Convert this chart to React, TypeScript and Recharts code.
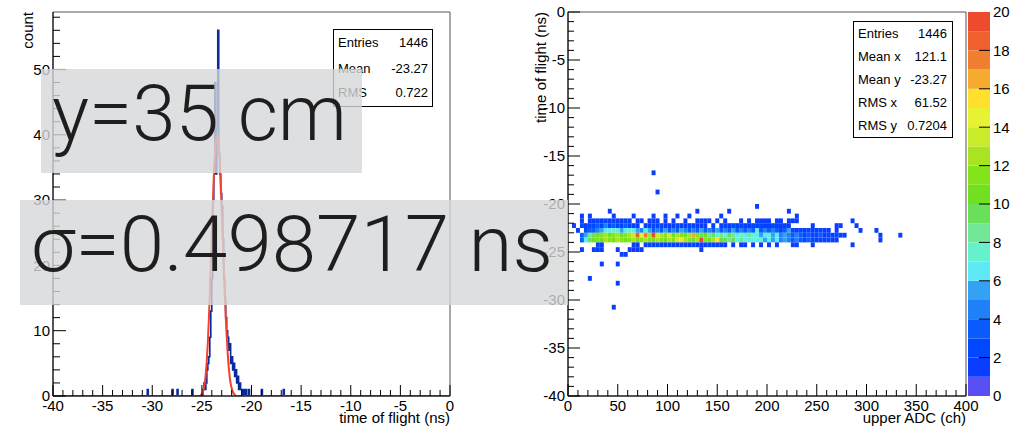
import React from 'react';
import { ComposedChart, Line, XAxis, YAxis, ReferenceArea, Scatter } from 'recharts';

const FONT = '"Liberation Sans", Arial, Helvetica, sans-serif';
const BIG_FONT = 'Roboto, "Liberation Sans", sans-serif';

// ---------- left panel: time of flight histogram ----------
const tofMajorTicks = [-40, -35, -30, -25, -20, -15, -10, -5, 0];
const countMajorTicks = [0, 10, 20, 30, 40, 50];
const countMax = 58.8;
const tofBinWidth = 0.1;
const tofBinLow = [
  -30.5, -28.0, -27.5, -26.0, -24.9, -24.8, -24.7, -24.6, -24.5, -24.4, -24.3, -24.2, -24.1, -24.0,
  -23.9, -23.8, -23.7, -23.6, -23.5, -23.4, -23.3, -23.2, -23.1, -23.0, -22.9, -22.8, -22.7, -22.6,
  -22.5, -22.4, -22.3, -22.2, -22.1, -22.0, -21.9, -21.8, -21.7, -21.6, -21.5, -21.4, -21.3, -21.2,
  -21.1, -21.0, -20.8, -20.6, -20.3, -19.0, -16.8,
];
const tofBinCount = [
  1, 1, 1, 1, 1, 2, 1, 2, 4, 5, 6, 9, 13, 18,
  30, 35, 48, 34, 41, 56, 37, 34, 31, 29, 24, 18, 15, 12,
  10, 9, 7, 8, 5, 6, 4, 5, 3, 4, 2, 3, 1, 2,
  1, 1, 1, 1, 1, 1, 1,
];
const fitTof = [
  -40, -25.2, -25.1, -25.0, -24.9, -24.8, -24.7, -24.6, -24.5, -24.4, -24.3, -24.2, -24.1, -24.0,
  -23.9, -23.8, -23.7, -23.6, -23.5, -23.4, -23.3, -23.2, -23.1, -23.0, -22.9, -22.8, -22.7, -22.6,
  -22.5, -22.4, -22.3, -22.2, -22.1, -22.0, -21.9, -21.8, -21.7, -21.5, 0,
];
const fitCount = [
  0, 0, 0.15, 0.3, 0.6, 1.2, 2.1, 3.5, 5.5, 8.2, 11.6, 15.6, 20.1, 24.8,
  29.4, 33.5, 36.7, 38.8, 39.8, 39.6, 38.2, 35.7, 32.3, 28.4, 24.2, 20.0, 16.0, 12.3,
  9.2, 6.6, 4.5, 3.0, 1.9, 1.2, 0.7, 0.4, 0.2, 0, 0,
];

// ---------- right panel: 2D histogram tof vs ADC ----------
const adcMajorTicks = [0, 50, 100, 150, 200, 250, 300, 350, 400];
const tof2MajorTicks = [0, -5, -10, -15, -20, -25, -30, -35, -40];
const zMajorTicks = [0, 2, 4, 6, 8, 10, 12, 14, 16, 18, 20];
const adcBinWidth = 4;
const tofRowHeight = 0.5;

// dense rows: lower edge of tof row, first ADC bin index, counts
const row_m22_0 = [1,0,1,1,2,1,2,1,2,1,1,2,1,0,1,1,0,1,1,1,0,1,0,1,0,0,1,0,0,1,1,1,1,0,1,0,1,0,0,0,1,0,1,0,1,1,1,1,0,1,1,0,1,1,1,0,0,0,0,0,0,0,0,0,0,0,0,0,1];
const row_m22_5 = [1,0,2,1,2,2,3,2,4,2,3,2,2,3,2,1,1,0,1,1,2,1,2,1,1,1,2,1,1,2,1,1,1,1,0,1,0,1,2,1,2,1,2,1,1,2,1,2,1,1,2,1,1,1,1,0,0,0,0,0,1,0,0,0,0,0,1,1,0,0,0,1];
const row_m23_0 = [1,0,2,3,3,4,5,6,6,7,6,5,6,7,6,5,4,6,5,3,4,3,5,3,4,3,5,4,3,4,3,5,3,4,3,5,3,4,3,5,3,4,3,4,3,6,3,4,3,4,3,2,3,5,2,1,2,1,2,1,1,2,1,1,0,1,0,0,0,0,0,1,0,0,0,1];
const row_m23_5 = [3,5,8,9,10,11,12,10,11,12,10,11,12,13,18,14,17,12,19,13,12,11,13,10,12,11,10,12,16,11,9,10,8,9,7,8,7,9,8,6,7,6,8,7,6,5,6,7,5,6,4,5,4,3,4,3,2,3,2,2,3,1,2,1,2,1,1,0,0,0,0,0,0,0,0,1,0,0,0,0,1];
const row_m24_0 = [3,6,9,10,11,10,12,11,10,12,11,10,11,12,10,11,12,11,10,12,11,10,12,11,13,15,12,11,10,12,19,11,10,12,15,10,9,8,9,7,8,7,6,7,6,7,5,6,5,6,4,5,4,3,4,3,2,3,2,1,2,1,2,1,1,0,0,0,0,0,0,0,0,0,0,1];
const row_m24_5 = [2,1,0,0,0,0,0,0,0,1,1,0,1,2,1,2,1,1,2,1,1,2,1,1,2,1,1,1,2,1,1,1,1,0,1,0,1,1,0,1,0,1,0,1,0,1,0,0,0,1,1,0,0,0,1,0,0,0,0,0,0,0,0,0,1];
const bandRowLow = [-22, -22.5, -23, -23.5, -24, -24.5];
const bandRowStart = [3, 1, 2, 3, 3, 7];
const bandRowCounts = [row_m22_0, row_m22_5, row_m23_0, row_m23_5, row_m24_0, row_m24_5];

// isolated cells: ADC bin index, tof row lower edge, count
const looseAdcBin = [21, 22, 47, 10, 32, 40, 55, 3, 5, 11, 16, 21, 24, 27, 30, 38, 57, 3, 6, 7, 8, 12, 15, 16, 17, 18, 33, 13, 14, 8, 12, 5, 12, 11];
const looseTofRow = [-17, -19, -20.5, -21, -21, -21, -21, -21.5, -21.5, -21.5, -21.5, -21.5, -21.5, -21.5, -21.5, -21.5, -21.5, -25, -25, -25, -25, -25, -25, -25, -25, -25, -25, -25.5, -25.5, -26.5, -26.5, -28, -28.5, -31];
const looseCount = [1, 1, 1, 1, 1, 1, 1, 1, 1, 1, 1, 1, 1, 1, 1, 1, 1, 1, 1, 1, 1, 1, 1, 1, 1, 1, 1, 1, 1, 1, 1, 1, 1, 1];

const paletteColors = [
  '#5a4ff2', '#0a3dff', '#0048ff', '#0a5cff', '#1f80f8', '#33a2f4', '#5fe9f5', '#66f0cc', '#72e896', '#6ae05a',
  '#70e020', '#84e41c', '#a8e422', '#c8ec2a', '#e6f232', '#ffe02c', '#f6aa30', '#f08030', '#f0602e', '#ee4a2e',
];

// ---------- tables built from the arrays ----------
const histTable = Array.from({ length: 401 }, (_, i) => {
  const x = Math.round((-40 + i * tofBinWidth) * 10) / 10;
  const j = tofBinLow.findIndex((b) => Math.abs(b - x) < 1e-6);
  return { x, c: j >= 0 ? tofBinCount[j] : 0 };
});
const fitTable = fitTof.map((x, i) => ({ x, f: fitCount[i] }));

type Cell = { x: number; y: number; x1: number; x2: number; y1: number; y2: number; n: number };
const cells: Cell[] = [];
bandRowCounts.forEach((row, r) => {
  row.forEach((n, j) => {
    if (n > 0) {
      const k = bandRowStart[r] + j;
      const t = bandRowLow[r];
      cells.push({ x: k * adcBinWidth + 2, y: t + 0.25, x1: k * adcBinWidth, x2: (k + 1) * adcBinWidth, y1: t, y2: t + tofRowHeight, n });
    }
  });
});
looseAdcBin.forEach((k, i) => {
  const t = looseTofRow[i];
  cells.push({ x: k * adcBinWidth + 2, y: t + 0.25, x1: k * adcBinWidth, x2: (k + 1) * adcBinWidth, y1: t, y2: t + tofRowHeight, n: looseCount[i] });
});
const colorFor = (n: number) => paletteColors[Math.min(19, Math.floor(n))];
const paletteTable = paletteColors.map((c, i) => ({ x: 0.5, lo: i, hi: i + 1, c }));

const range = (a: number, b: number, step: number) => {
  const out: number[] = [];
  for (let v = a; v <= b + 1e-9; v += step) out.push(Math.round(v * 1000) / 1000);
  return out;
};

// ---------- tick renderers ----------
const bottomTick = (majors: number[], majorLen: number, minorLen: number) => (props: any) => {
  const { x, y, payload } = props;
  const v = payload.value;
  const isMajor = majors.includes(v);
  return (
    <g>
      <line x1={x} x2={x} y1={y} y2={y - (isMajor ? majorLen : minorLen)} stroke="#000" strokeWidth={1} />
      {isMajor && (
        <text x={x} y={y + 15} textAnchor="middle" fontSize={15} fontFamily={FONT} fill="#000">
          {v}
        </text>
      )}
    </g>
  );
};
const leftTick = (majors: number[], majorLen: number, minorLen: number) => (props: any) => {
  const { x, y, payload } = props;
  const v = payload.value;
  const isMajor = majors.includes(v);
  return (
    <g>
      <line x1={x} x2={x + (isMajor ? majorLen : minorLen)} y1={y} y2={y} stroke="#000" strokeWidth={1} />
      {isMajor && (
        <text x={x - 3} y={y} dy="0.36em" textAnchor="end" fontSize={15} fontFamily={FONT} fill="#000">
          {v}
        </text>
      )}
    </g>
  );
};
const paletteTick = (props: any) => {
  const { x, y, payload } = props;
  const v = payload.value;
  return (
    <g>
      {v > 0 && v < 20 && <line x1={x} x2={x - 11} y1={y} y2={y} stroke="#000" strokeWidth={1} />}
      <text x={x + 3} y={y} dy="0.36em" textAnchor="start" fontSize={15} fontFamily={FONT} fill="#000">
        {v}
      </text>
    </g>
  );
};

const Nothing = () => <g />;

export default function App() {
  return (
    <div style={{ position: 'fixed', left: 0, top: 0, width: 1024, height: 431, background: '#fff', overflow: 'hidden' }}>
      {/* left histogram */}
      <div style={{ position: 'absolute', left: 0, top: 0 }}>
        <ComposedChart width={460} height={431} margin={{ top: 12, right: 10, bottom: 0, left: 0 }}>
          <XAxis
            type="number"
            dataKey="x"
            domain={[-40, 0]}
            ticks={range(-40, 0, 1)}
            interval={0}
            height={35}
            tickSize={0}
            tickMargin={0}
            tickLine={false}
            axisLine={{ stroke: '#000' }}
            tick={bottomTick(tofMajorTicks, 11, 6)}
            allowDataOverflow
          />
          <YAxis
            type="number"
            domain={[0, countMax]}
            ticks={range(0, 58, 2)}
            interval={0}
            width={53}
            tickSize={0}
            tickMargin={0}
            tickLine={false}
            axisLine={{ stroke: '#000' }}
            tick={leftTick(countMajorTicks, 13, 7)}
            allowDataOverflow
          />
          <ReferenceArea x1={-40} x2={0} y1={0} y2={countMax} fill="none" stroke="#555" strokeWidth={1} ifOverflow="visible" />
          <Line data={histTable} dataKey="c" type="stepAfter" stroke="#0a2a9e" strokeWidth={1.6} dot={false} isAnimationActive={false} />
          <Line data={fitTable} dataKey="f" type="monotone" stroke="#f2412c" strokeWidth={2} dot={false} isAnimationActive={false} />
        </ComposedChart>
      </div>

      {/* right 2D histogram */}
      <div style={{ position: 'absolute', left: 520, top: 0 }}>
        <ComposedChart width={504} height={431} margin={{ top: 12, right: 58, bottom: 0, left: 0 }} data={cells}>
          <XAxis
            type="number"
            dataKey="x"
            domain={[0, 400]}
            ticks={range(0, 400, 10)}
            interval={0}
            height={35}
            tickSize={0}
            tickMargin={0}
            tickLine={false}
            axisLine={{ stroke: '#000' }}
            tick={bottomTick(adcMajorTicks, 12, 6)}
            allowDataOverflow
          />
          <YAxis
            type="number"
            dataKey="y"
            domain={[-40, 0]}
            ticks={range(-40, 0, 1)}
            interval={0}
            width={48}
            tickSize={0}
            tickMargin={0}
            tickLine={false}
            axisLine={{ stroke: '#000' }}
            tick={leftTick(tof2MajorTicks, 12, 6)}
            allowDataOverflow
          />
          <ReferenceArea x1={0} x2={400} y1={-40} y2={0} fill="none" stroke="#555" strokeWidth={1} ifOverflow="visible" />
          {cells.map((c, i) => (
            <ReferenceArea key={i} x1={c.x1} x2={c.x2} y1={c.y1} y2={c.y2} fill={colorFor(c.n)} fillOpacity={1} stroke="none" ifOverflow="visible" />
          ))}
          <Scatter data={cells} dataKey="y" shape={Nothing} isAnimationActive={false} />
        </ComposedChart>
      </div>

      {/* palette */}
      <div style={{ position: 'absolute', left: 966, top: 0 }}>
        <ComposedChart width={58} height={431} margin={{ top: 12, right: 0, bottom: 35, left: 2 }} data={paletteTable}>
          <XAxis type="number" dataKey="x" domain={[0, 1]} hide />
          <YAxis
            type="number"
            dataKey="lo"
            orientation="right"
            domain={[0, 20]}
            ticks={zMajorTicks}
            interval={0}
            width={34}
            tickSize={0}
            tickMargin={0}
            tickLine={false}
            axisLine={false}
            tick={paletteTick}
          />
          {paletteTable.map((p, i) => (
            <ReferenceArea key={i} x1={0} x2={1} y1={p.lo} y2={p.hi} fill={p.c} fillOpacity={1} stroke="none" ifOverflow="visible" />
          ))}
          <Scatter data={paletteTable} dataKey="lo" shape={Nothing} isAnimationActive={false} />
        </ComposedChart>
      </div>

      {/* titles, stats boxes and annotation boxes */}
      <svg width={1024} height={431} style={{ position: 'absolute', left: 0, top: 0, pointerEvents: 'none' }}>
        <g fontFamily={FONT} fill="#000">
          <text x={450} y={423} fontSize={15} textAnchor="end">time of flight (ns)</text>
          <text x={966} y={423} fontSize={15} textAnchor="end">upper ADC (ch)</text>
          <text transform="translate(32.5,12) rotate(-90)" fontSize={15} textAnchor="end">count</text>
          <text transform="translate(545.5,12) rotate(-90)" fontSize={15} textAnchor="end">time of flight (ns)</text>
        </g>
        <g fontFamily={FONT} fontSize={13} fill="#000">
          <rect x={333.5} y={29.5} width={99} height={77} fill="#fff" stroke="#000" strokeWidth={1} />
          <text x={338} y={47}>Entries</text>
          <text x={428} y={47} textAnchor="end">1446</text>
          <text x={338} y={73}>Mean</text>
          <text x={428} y={73} textAnchor="end">-23.27</text>
          <text x={338} y={97}>RMS</text>
          <text x={428} y={97} textAnchor="end">0.722</text>

          <rect x={853.5} y={21.5} width={99} height={116} fill="#fff" stroke="#000" strokeWidth={1} />
          <text x={858} y={38}>Entries</text>
          <text x={947} y={38} textAnchor="end">1446</text>
          <text x={858} y={61}>Mean x</text>
          <text x={947} y={61} textAnchor="end">121.1</text>
          <text x={858} y={84}>Mean y</text>
          <text x={947} y={84} textAnchor="end">-23.27</text>
          <text x={858} y={107}>RMS x</text>
          <text x={947} y={107} textAnchor="end">61.52</text>
          <text x={858} y={130}>RMS y</text>
          <text x={947} y={130} textAnchor="end">0.7204</text>
        </g>
        <rect x={41} y={69} width={321} height={104} fill="rgb(214,215,218)" fillOpacity={0.8} />
        <rect x={20} y={200} width={548} height={105} fill="rgb(214,215,218)" fillOpacity={0.8} />
        <g fontFamily={BIG_FONT} fontWeight={300} fill="#1e1e1e" fontSize={77}>
          <text x={52} y={140} textLength={295} lengthAdjust="spacingAndGlyphs">y=35 cm</text>
          <text x={31} y={271} textLength={522} lengthAdjust="spacingAndGlyphs">σ=0.498717 ns</text>
        </g>
      </svg>
    </div>
  );
}
